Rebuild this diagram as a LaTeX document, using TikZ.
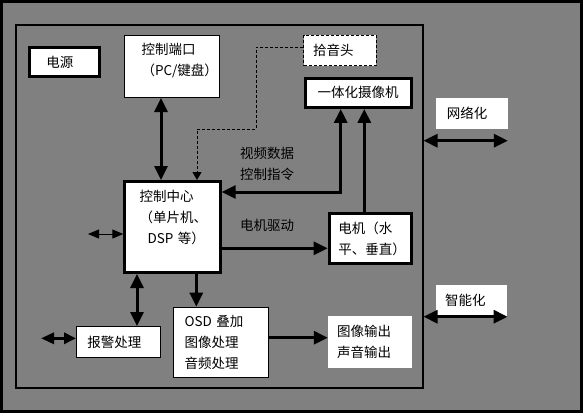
\documentclass[tikz,border=0pt]{standalone}
\usepackage{fontspec}
\setmainfont{Noto Sans CJK SC}
\usetikzlibrary{arrows.meta}
\definecolor{bg}{HTML}{808080}
\begin{document}
\begin{tikzpicture}[x=1pt,y=-1pt,
  every node/.style={font=\fontsize{13.5}{21}\selectfont, inner sep=0pt},
  thickbox/.style={draw, fill=white, line width=3pt},
  thinbox/.style={draw, fill=white, line width=1pt},
  dashbox/.style={draw, fill=white, line width=1pt, dash pattern=on 3pt off 2pt},
  plainbox/.style={fill=white},
  txt/.style={align=left},
  onearrow/.style={line width=3pt, -{Triangle[length=14pt,width=13pt]}},
  twoarrow/.style={line width=3pt, {Triangle[length=14pt,width=13pt]}-{Triangle[length=14pt,width=13pt]}},
  midarrow/.style={line width=3pt, {Triangle[length=13pt,width=11pt]}-{Triangle[length=12pt,width=11pt]}},
  smallarrow/.style={line width=1pt, {Triangle[length=11pt,width=9pt]}-{Triangle[length=11pt,width=9pt]}},
  dasharrow/.style={line width=1pt, dash pattern=on 3pt off 2pt, -{Triangle[length=8pt,width=9pt]}}
]
\useasboundingbox (0,0) rectangle (583,413);
\draw[line width=3pt, fill=bg] (1.5,1.5) rectangle (581.5,411.5);

\node[draw, line width=2pt, minimum width=406.5pt, minimum height=363pt] (frame) at (219.25,206.5) {};

\node[thickbox, minimum width=70pt, minimum height=29pt, txt, text width=36pt] (power) at (64.4,61.9) {电源};
\node[thinbox, minimum width=95pt, minimum height=62pt,
  label={[txt, text width=61pt, yshift=6pt, name=porttext]center:{控制端口\\（PC/键盘）}}] (port) at (172,66.5) {};
\node[dashbox, minimum width=72.4pt, minimum height=30.6pt, txt, text width=54pt] (pickup) at (340,50.5) {拾音头};
\node[thickbox, minimum width=106pt, minimum height=29.3pt] (camera) at (358.2,92.8) {一体化摄像机};
\node[thickbox, minimum width=95.4pt, minimum height=91pt,
  label={[txt, text width=76pt, xshift=5pt, yshift=9.5pt, name=ctrltext]center:{控制中心\\（单片机、\\\hspace*{8pt}DSP 等）}}] (control) at (172.5,227) {};
\node[thickbox, minimum width=82.3pt, minimum height=50pt, txt, text width=64pt] (motor) at (370.3,238.5) {电机（水\\平、垂直）};
\node[thinbox, minimum width=83.6pt, minimum height=31.3pt, txt, text width=62pt] (alarm) at (118.3,342.2) {报警处理};
\node[thinbox, minimum width=95pt, minimum height=70.6pt, txt, text width=72pt] (osd) at (220.5,342.5) {OSD 叠加\\图像处理\\音频处理};
\node[plainbox, minimum width=84pt, minimum height=51.7pt, txt, text width=66pt] (output) at (370,341.8) {图像输出\\声音输出};
\node[plainbox, minimum width=71.7pt, minimum height=30.7pt, txt, text width=50pt] (net) at (471.8,113.3) {网络化};
\node[plainbox, minimum width=71.7pt, minimum height=31.7pt, txt, text width=53pt] (smart) at (471.5,300.8) {智能化};

\node[anchor=west, txt] (lvid) at (240,163.5) {视频数据\\控制指令};
\node[anchor=west] (lmot) at (240,225.7) {电机驱动};

\coordinate (xa) at (161,0);
\coordinate (d0) at (0,47);
\coordinate (d1) at (256,47);
\coordinate (d2) at (197,129);
\coordinate (xc) at (340.7,0);
\coordinate (yc) at (0,192);
\coordinate (xd) at (364.3,0);
\coordinate (ye) at (0,248.3);
\coordinate (xf) at (196.3,0);
\coordinate (xg) at (137,0);
\coordinate (lc) at (88,234);
\coordinate (la) at (41,338.3);
\coordinate (yo) at (0,337.7);
\coordinate (yn) at (0,140.7);
\coordinate (ys) at (0,316.7);

\draw[twoarrow] (port.south -| xa) -- (control.north -| xa);
\draw[dasharrow] (pickup.west |- d0) -- (d1) |- (d2) -- (control.north -| d2);
\draw[twoarrow] (camera.south -| xc) |- (control.east |- yc);
\draw[onearrow] (motor.north -| xd) -- (camera.south -| xd);
\draw[onearrow] (control.east |- ye) -- (motor.west |- ye);
\draw[onearrow] (control.south -| xf) -- (osd.north -| xf);
\draw[twoarrow] (control.south -| xg) -- (alarm.north -| xg);
\draw[smallarrow] (lc) -- (control.west |- lc);
\draw[midarrow] (la) -- (alarm.west |- la);
\draw[onearrow] (osd.east |- yo) -- (output.west |- yo);
\draw[twoarrow] (frame.east |- yn) -- (net.east |- yn);
\draw[twoarrow] (frame.east |- ys) -- (smart.east |- ys);
\end{tikzpicture}
\end{document}
